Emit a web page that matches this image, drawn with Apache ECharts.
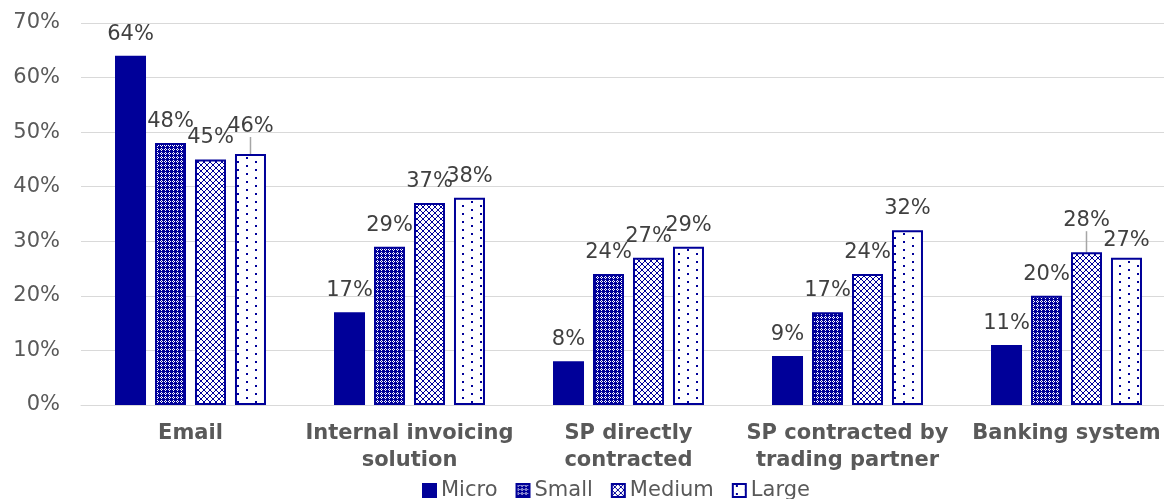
<!DOCTYPE html>
<html><head><meta charset="utf-8">
<script src="https://cdn.jsdelivr.net/npm/echarts@6/dist/echarts.min.js"></script>
<style>html,body{margin:0;padding:0;background:#fff}#c{width:1164px;height:499px}</style>
</head><body><div id="c"></div>
<script>
var categories = ['Email', 'Internal invoicing\nsolution', 'SP directly\ncontracted', 'SP contracted by\ntrading partner', 'Banking system'];
var seriesNames = ['Micro', 'Small', 'Medium', 'Large'];
var micro = [64, 17, 8, 9, 11];
var small = [48, 29, 24, 17, 20];
var medium = [45, 37, 27, 24, 28];
var large = [46, 38, 29, 32, 27];
var yTicks = [0, 10, 20, 30, 40, 50, 60, 70];

var BLUE = '#000099';
function tile(w, h, draw) {
  var c = document.createElement('canvas'); c.width = w; c.height = h;
  var g = c.getContext('2d'); draw(g); return c;
}
var patSmall = tile(4, 4, function (g) {
  g.fillStyle = BLUE; g.fillRect(0, 0, 4, 4);
  g.fillStyle = '#ffffff';
  g.fillRect(1, 0, 1, 1); g.fillRect(0, 1, 1, 1); g.fillRect(2, 1, 1, 1); g.fillRect(1, 2, 1, 1);
});
var patMedium = tile(6, 6, function (g) {
  g.fillStyle = '#ffffff'; g.fillRect(0, 0, 6, 6);
  g.fillStyle = BLUE;
  for (var i = 0; i < 6; i++) { g.fillRect(i, i, 1, 1); g.fillRect(5 - i, i, 1, 1); }
});
var patLarge = tile(18, 8, function (g) {
  g.fillStyle = '#ffffff'; g.fillRect(0, 0, 18, 8);
  g.fillStyle = BLUE;
  g.fillRect(3, 1, 2, 2); g.fillRect(12, 5, 2, 2);
});
var fills = [BLUE, {image: patSmall, repeat: 'repeat'}, {image: patMedium, repeat: 'repeat'}, {image: patLarge, repeat: 'repeat'}];
var datasets = [micro, small, medium, large];
// extra vertical shift for specific labels [series][category]; leader lines where shifted up
var extraDy = [[0,0,0,0,0],[0,0,0,0,0],[0,0,0,0,-10],[-6,0,0,0,4]];
var leader = [[0,0,0,0,0],[0,0,0,0,0],[0,0,0,0,1],[1,0,0,0,0]];

var FONT = 'DejaVu Sans';
var series = datasets.map(function (d, si) {
  return {
    name: seriesNames[si], type: 'bar',
    data: d.map(function (v, ci) {
      return leader[si][ci] ? {value: v, labelLine: {show: true, lineStyle: {color: '#a6a6a6', width: 1.5}}} : {value: v, labelLine: {show: false}};
    }),
    barWidth: 31, barGap: '29%',
    itemStyle: {color: fills[si], borderColor: BLUE, borderWidth: 2},
    label: {show: true, position: 'top', distance: 11, formatter: '{c}%', color: '#404040', fontSize: 21, fontFamily: FONT},
    labelLayout: function (p) { var dy = extraDy[si][p.dataIndex]; return dy ? {dy: dy} : {}; }
  };
});

var chart = echarts.init(document.getElementById('c'));
chart.setOption({
  animation: false,
  textStyle: {fontFamily: FONT},
  grid: {left: 81, right: -12, top: 23, bottom: 94, containLabel: false, outerBoundsMode: 'none'},
  legend: {
    bottom: -7, left: 417, itemWidth: 13, itemHeight: 13, itemGap: 18,
    icon: 'rect',
    textStyle: {fontSize: 21, color: '#595959', fontFamily: FONT}
  },
  xAxis: {
    type: 'category', data: categories,
    axisTick: {show: false},
    axisLine: {lineStyle: {color: '#d9d9d9', width: 1}},
    axisLabel: {fontSize: 21, fontWeight: 'bold', color: '#595959', lineHeight: 27, margin: 15, interval: 0, fontFamily: FONT}
  },
  yAxis: {
    type: 'value', min: yTicks[0], max: yTicks[yTicks.length - 1], interval: 10,
    axisLabel: {formatter: '{value}%', fontSize: 21, color: '#595959', margin: 21, fontFamily: FONT},
    splitLine: {lineStyle: {color: '#d9d9d9', width: 1}},
    axisLine: {show: false}, axisTick: {show: false}
  },
  series: series
});
</script></body></html>
